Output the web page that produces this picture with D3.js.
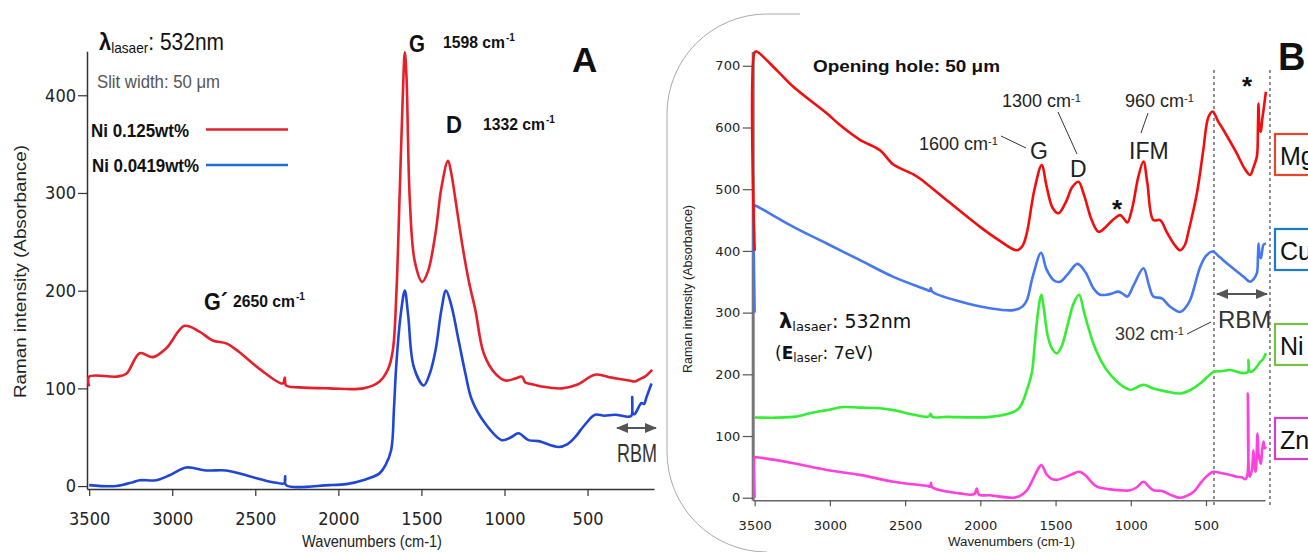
<!DOCTYPE html>
<html>
<head>
<meta charset="utf-8">
<script src="https://cdn.jsdelivr.net/npm/d3@7"></script>
<style>
  body { margin: 0; background: #fff; }
  svg { display: block; }
  .narrow { font-family: 'Liberation Sans Narrow', 'DejaVu Sans Condensed', sans-serif; }
  .helv { font-family: 'Liberation Sans', Arial, sans-serif; }
  .dv { font-family: 'DejaVu Sans', Verdana, sans-serif; }
</style>
</head>
<body>
<svg id="chart" width="1308" height="552"></svg>
<script>
// ---- data: [wavenumber, intensity] ----
const aTicksX = [3500, 3000, 2500, 2000, 1500, 1000, 500];
const aTicksY = [0, 100, 200, 300, 400];
const bTicksX = [3500, 3000, 2500, 2000, 1500, 1000, 500];
const bTicksY = [0, 100, 200, 300, 400, 500, 600, 700];

// Panel A: Ni 0.125wt% (red)
const aRed = [[3500,102],[3500,112],[3336,112],[3276,115],[3196,136],[3116,132],[3036,141],
  [2926,164],[2836,158],[2756,149],[2675,146],[2595,137],[2475,120],[2335,105],[2322,111],
  [2315,103],[2235,101],[2055,100],[1850,100],[1752,107],[1700,120],[1672,139],[1650,200],
  [1632,293],[1612,400],[1600,444],[1590,420],[1570,293],[1540,230],[1495,209],[1460,220],
  [1415,259],[1380,305],[1340,333],[1320,320],[1295,293],[1255,248],[1215,210],[1175,180],
  [1125,136],[1055,115],[995,108],[935,110],[895,112],[875,106],[855,105],[780,102],[655,100],
  [560,104],[455,114],[355,111],[250,108],[215,107],[180,110],[155,112],[111,119]];

// Panel A: Ni 0.0419wt% (blue)
const aBlue = [[3500,1],[3336,0],[3236,4],[3196,6],[3096,6],[3016,11],[2916,19],[2796,16],
  [2675,16],[2535,10],[2395,4],[2325,3],[2320,10],[2315,1],[2055,1],[1952,2],[1852,6],[1752,13],
  [1715,22],[1682,37],[1665,80],[1652,122],[1625,175],[1600,200],[1580,175],[1546,122],
  [1486,103],[1450,115],[1415,139],[1380,180],[1352,200],[1320,185],[1276,149],[1235,115],
  [1196,88],[1116,64],[1016,47],[960,50],[916,54],[855,47],[795,46],[675,40],[620,43],[575,50],
  [520,62],[455,73],[400,72],[335,73],[255,71],[236,72],[231,91],[226,74],[215,74],[175,85],
  [160,84],[145,91],[115,105]];

// Panel B: Mg (red)
const bRed = [[3500,400],[3500,722],[3487,723],[3354,693],[3243,666],[3021,623],[2933,604],
  [2800,580],[2667,563],[2578,540],[2445,524],[2400,517],[2223,482],[2002,439],[1880,418],
  [1758,401],[1720,408],[1691,429],[1640,500],[1592,539],[1560,505],[1520,470],[1481,461],
  [1430,480],[1390,503],[1348,512],[1310,490],[1260,450],[1215,431],[1170,438],[1120,450],
  [1071,458],[1045,452],[1023,446],[990,470],[950,520],[916,545],[890,510],[850,450],[805,450],
  [760,430],[710,410],[672,401],[640,410],[617,431],[561,493],[520,560],[484,617],[455,626],
  [420,610],[384,596],[300,560],[240,532],[207,523],[185,535],[162,553],[155,600],[151,639],
  [145,600],[136,593],[128,610],[118,628],[102,658]];

// Panel B: Cu (blue)
const bBlue = [[3500,300],[3500,474],[3498,474],[3243,439],[3021,412],[2800,385],[2578,358],
  [2356,337],[2335,335],[2330,340],[2320,334],[2135,318],[1936,307],[1780,304],[1720,310],
  [1691,320],[1650,360],[1596,397],[1560,370],[1510,352],[1470,350],[1420,362],[1355,379],
  [1300,365],[1250,340],[1204,329],[1140,330],[1082,334],[1050,330],[1023,326],[980,345],
  [916,372],[880,345],[850,326],[794,323],[740,310],[672,301],[640,307],[606,320],[539,374],
  [500,392],[455,399],[410,390],[362,380],[300,368],[250,358],[207,350],[185,354],[162,364],
  [155,390],[151,412],[145,395],[136,388],[128,398],[118,410],[102,412]];

// Panel B: Ni (green)
const bGreen = [[3500,130],[3243,131],[3132,137],[3020,142],[2911,147],[2800,146],[2667,145],
  [2578,142],[2450,135],[2356,131],[2340,132],[2330,136],[2320,131],[2223,131],[1936,131],
  [1780,139],[1740,146],[1714,158],[1690,175],[1658,202],[1640,245],[1625,283],[1605,320],
  [1594,329],[1580,310],[1550,260],[1520,240],[1492,234],[1460,245],[1420,280],[1380,315],
  [1344,329],[1310,300],[1275,270],[1249,250],[1210,228],[1160,207],[1100,190],[1050,180],
  [1005,175],[983,176],[916,183],[850,177],[760,172],[672,169],[600,175],[539,185],[490,196],
  [451,204],[400,205],[340,207],[251,202],[222,204],[218,223],[212,206],[200,204],[170,210],
  [140,220],[120,225],[102,234]];

// Panel B: Zn (pink)
const bPink = [[3500,0],[3500,66],[3498,66],[3243,56],[3021,45],[2800,37],[2578,26],[2350,19],
  [2334,18],[2328,24],[2320,17],[2135,7],[2040,6],[2024,15],[2010,5],[1936,4],[1780,0],
  [1730,4],[1691,12],[1650,30],[1620,45],[1594,53],[1560,38],[1530,31],[1492,29],[1440,33],
  [1390,38],[1344,42],[1300,36],[1260,25],[1226,18],[1150,14],[1060,12],[1005,12],[960,17],
  [916,26],[880,18],[850,12],[790,11],[740,5],[672,0],[620,4],[580,10],[539,23],[490,36],
  [451,42],[400,40],[340,37],[296,34],[260,33],[240,30],[226,36],[222,169],[218,60],[210,34],
  [195,45],[185,77],[178,50],[170,42],[158,104],[150,70],[135,55],[128,75],[118,91],[110,80],
  [102,83]];

// ---- drawing ----
const svg = d3.select('#chart');

// Panel A scales
const xA = d3.scaleLinear().domain([3513, 100]).range([87, 654]);
const yA = d3.scaleLinear().domain([-3, 445]).range([489, 51.3]);

// Panel B scales
const xB = d3.scaleLinear().domain([3513, 108]).range([752.7, 1265]);
const yB = d3.scaleLinear().domain([-4, 723]).range([500.2, 51.6]);

// Panel B rounded frame (top-left corner only)
svg.append('path')
  .attr('d', 'M800,14 L767,14 A100,100 0 0 0 667,114 L667,452 A100,100 0 0 0 767,552')
  .attr('fill', 'none')
  .attr('stroke', '#aaa')
  .attr('stroke-width', 1);

// Axes A
const gAx = svg.append('g')
  .attr('transform', 'translate(0,489)')
  .call(d3.axisBottom(xA).tickValues(aTicksX).tickSize(7).tickSizeOuter(0).tickFormat(d3.format('d')));
gAx.selectAll('text').attr('y', 36).attr('dy', 0)
  .attr('class', 'narrow').style('font-size', '18px').attr('fill', '#222');

const gAy = svg.append('g')
  .attr('transform', 'translate(87,0)')
  .call(d3.axisLeft(yA).tickValues(aTicksY).tickSize(9).tickSizeOuter(0));
gAy.selectAll('text').attr('x', -11)
  .attr('class', 'narrow').style('font-size', '18px').attr('fill', '#222');
[gAx, gAy].forEach(g => {
  g.select('.domain').attr('stroke', '#333').attr('stroke-width', 1.5);
  g.selectAll('.tick line').attr('stroke', '#333').attr('stroke-width', 1.2);
});

// Axes B
const gBx = svg.append('g')
  .attr('transform', 'translate(0,500.2)')
  .call(d3.axisBottom(xB).tickValues(bTicksX).tickSize(6).tickSizeOuter(0).tickFormat(d3.format('d')));
gBx.selectAll('text').attr('y', 30).attr('dy', 0)
  .attr('class', 'dv').style('font-size', '13px').attr('fill', '#222');

const gBy = svg.append('g')
  .attr('transform', 'translate(752.7,0)')
  .call(d3.axisLeft(yB).tickValues(bTicksY).tickSize(10).tickSizeOuter(0));
gBy.selectAll('text').attr('x', -12.5)
  .attr('class', 'dv').style('font-size', '13px').attr('fill', '#222');
gBx.select('.domain').attr('stroke', '#666').attr('stroke-width', 1.5);
gBy.select('.domain').attr('stroke', '#777').attr('stroke-width', 3);
[gBx, gBy].forEach(g => g.selectAll('.tick line').attr('stroke', '#555').attr('stroke-width', 1.2));

// Axis titles (lengths fitted to the reference)
svg.append('text').attr('class', 'helv')
  .attr('x', 302).attr('y', 547)
  .attr('textLength', 140).attr('lengthAdjust', 'spacingAndGlyphs')
  .style('font-size', '16px').attr('fill', '#222').text('Wavenumbers (cm-1)');
svg.append('text').attr('class', 'helv')
  .attr('transform', 'translate(26,398) rotate(-90)')
  .attr('textLength', 253).attr('lengthAdjust', 'spacingAndGlyphs')
  .style('font-size', '16px').attr('fill', '#222').text('Raman intensity (Absorbance)');
svg.append('text').attr('class', 'helv')
  .attr('x', 948).attr('y', 546)
  .attr('textLength', 127).attr('lengthAdjust', 'spacingAndGlyphs')
  .style('font-size', '12.5px').attr('fill', '#222').text('Wavenumbers (cm-1)');
svg.append('text').attr('class', 'helv')
  .attr('transform', 'translate(692,373) rotate(-90)')
  .attr('textLength', 168).attr('lengthAdjust', 'spacingAndGlyphs')
  .style('font-size', '12px').attr('fill', '#222').text('Raman intensity (Absorbance)');

// RBM dashed guides in B
[447, 75].forEach(w => {
  svg.append('line')
    .attr('x1', xB(w)).attr('x2', xB(w)).attr('y1', 70).attr('y2', 506)
    .attr('stroke', '#555').attr('stroke-width', 1.3).attr('stroke-dasharray', '3,3');
});

// Spectra
const line = (x, y) => d3.line().x(d => x(d[0])).y(d => y(d[1])).curve(d3.curveCatmullRom.alpha(0.5));
const series = [
  { data: aBlue, x: xA, y: yA, color: '#1f46d6' },
  { data: aRed, x: xA, y: yA, color: '#e5202a' },
  { data: bPink, x: xB, y: yB, color: '#ff40dc' },
  { data: bGreen, x: xB, y: yB, color: '#33ee33' },
  { data: bBlue, x: xB, y: yB, color: '#4676f2' },
  { data: bRed, x: xB, y: yB, color: '#f40d0d' }
];
series.forEach(s => {
  svg.append('path')
    .datum(s.data)
    .attr('d', line(s.x, s.y))
    .attr('fill', 'none')
    .attr('stroke', s.color)
    .attr('stroke-width', 2.6)
    .attr('stroke-linejoin', 'round');
});

// Arrow markers
const defs = svg.append('defs');
defs.append('marker').attr('id', 'arr').attr('viewBox', '0 0 10 10')
  .attr('refX', 9).attr('refY', 5).attr('markerWidth', 7).attr('markerHeight', 7)
  .attr('orient', 'auto-start-reverse')
  .append('path').attr('d', 'M0,1 L10,5 L0,9 Z').attr('fill', '#555');

function dblArrow(x1, x2, y) {
  svg.append('line').attr('x1', x1).attr('x2', x2).attr('y1', y).attr('y2', y)
    .attr('stroke', '#555').attr('stroke-width', 1.8)
    .attr('marker-start', 'url(#arr)').attr('marker-end', 'url(#arr)');
}
dblArrow(617, 656, 428);
dblArrow(1217, 1267, 294);

// ---- text helpers ----
function txt(x, y, s, size, opts = {}) {
  const t = svg.append('text').attr('x', x).attr('y', y)
    .attr('class', opts.cls || 'helv')
    .style('font-size', size + 'px')
    .style('font-weight', opts.bold ? 'bold' : 'normal')
    .attr('fill', opts.fill || '#111')
    .attr('text-anchor', opts.anchor || 'start')
    .text(s);
  if (opts.len) t.attr('textLength', opts.len).attr('lengthAdjust', 'spacingAndGlyphs');
  return t;
}
function sup(t, s, size) {
  t.append('tspan').attr('dy', -size * 0.45).style('font-size', size + 'px').text(s);
}
// fitted main text plus a separate superscript placed after it
function txtSup(x, y, s, supStr, size, supSize, opts) {
  txt(x, y, s, size, opts);
  txt(x + opts.len + 1, y - size * 0.4, supStr, supSize, { bold: opts.bold, fill: opts.fill });
}

// ---- Panel A text ----
const lamA = svg.append('text').attr('x', 99).attr('y', 50).attr('class', 'helv').attr('fill', '#111')
  .attr('textLength', 125).attr('lengthAdjust', 'spacingAndGlyphs');
lamA.append('tspan').style('font-size', '24px').style('font-weight', 'bold').text('λ');
lamA.append('tspan').attr('dy', 3).style('font-size', '15px').text('lasaer');
lamA.append('tspan').attr('dy', -3).style('font-size', '23px').text(': 532nm');

txt(97, 88, 'Slit width: 50 μm', 17.5, { fill: '#555', len: 123 });
txt(91, 137, 'Ni 0.125wt%', 18, { bold: true, len: 98 });
txt(92, 172, 'Ni 0.0419wt%', 18, { bold: true, len: 107 });
svg.append('line').attr('x1', 206).attr('x2', 288).attr('y1', 129.5).attr('y2', 129.5)
  .attr('stroke', '#e5202a').attr('stroke-width', 2.6);
svg.append('line').attr('x1', 206).attr('x2', 288).attr('y1', 165).attr('y2', 165)
  .attr('stroke', '#1f6ad6').attr('stroke-width', 2.6);

txt(409, 52, 'G', 24, { bold: true, len: 16 });
txtSup(443, 48, '1598 cm', '-1', 17, 10, { bold: true, len: 62 });
txt(446, 133, 'D', 24, { bold: true, len: 16 });
txtSup(483, 130, '1332 cm', '-1', 17, 10, { bold: true, len: 62 });
txt(204, 310, 'G´', 24, { bold: true, len: 24 });
txtSup(233, 307, '2650 cm', '-1', 17, 10, { bold: true, len: 62 });
txt(572, 72, 'A', 35, { bold: true });
txt(617, 462, 'RBM', 25, { fill: '#333', len: 40 });

// ---- Panel B text ----
txt(813, 72, 'Opening hole: 50 μm', 17, { bold: true, len: 187 });
txt(1278, 70, 'B', 38, { bold: true });

const lc = '#222';
sup(txt(919, 150, '1600 cm', 18, { fill: lc }), '-1', 11);
sup(txt(1002, 107, '1300 cm', 18, { fill: lc }), '-1', 11);
sup(txt(1125, 107, '960 cm', 18, { fill: lc }), '-1', 11);
txt(1030, 159, 'G', 23, { fill: lc });
txt(1070, 177, 'D', 23, { fill: lc });
txt(1129, 159, 'IFM', 23, { fill: lc });
sup(txt(1115, 340, '302 cm', 18, { fill: '#333' }), '-1', 11);
txt(1218, 328, 'RBM', 24, { fill: '#333' });
[[1001, 136, 1026, 148], [1058, 112, 1077, 154], [1148, 113, 1141, 133], [1187, 334, 1211, 322]]
  .forEach(l => svg.append('line').attr('x1', l[0]).attr('y1', l[1]).attr('x2', l[2]).attr('y2', l[3])
    .attr('stroke', '#333').attr('stroke-width', 1));
txt(1247, 95, '*', 26, { bold: true, anchor: 'middle' });
txt(1117, 218, '*', 26, { bold: true, anchor: 'middle' });

const lamB = svg.append('text').attr('x', 779).attr('y', 328).attr('class', 'dv').attr('fill', '#111');
lamB.append('tspan').style('font-size', '21px').style('font-weight', 'bold').text('λ');
lamB.append('tspan').attr('dy', 3).style('font-size', '13px').text('lasaer');
lamB.append('tspan').attr('dy', -3).style('font-size', '19px').text(': 532nm');
const eB = svg.append('text').attr('x', 775).attr('y', 359).attr('class', 'dv').attr('fill', '#111');
eB.append('tspan').style('font-size', '17px').text('(');
eB.append('tspan').style('font-size', '17px').style('font-weight', 'bold').text('E');
eB.append('tspan').attr('dy', 3).style('font-size', '12px').text('laser');
eB.append('tspan').attr('dy', -3).style('font-size', '17px').text(': 7eV)');

// Sample boxes at right edge (cut by the picture border, as in the source)
const boxes = [
  { label: 'Mg', y: 134, color: '#e8452c' },
  { label: 'Cu', y: 229, color: '#1a7bd0' },
  { label: 'Ni', y: 324, color: '#78c040' },
  { label: 'Zn', y: 418, color: '#d040d0' }
];
boxes.forEach(b => {
  svg.append('rect').attr('x', 1275).attr('y', b.y).attr('width', 60).attr('height', 41)
    .attr('fill', '#fff').attr('stroke', b.color).attr('stroke-width', 2.2);
  txt(1280, b.y + 31, b.label, 25, { fill: '#111' });
});
</script>
</body>
</html>
